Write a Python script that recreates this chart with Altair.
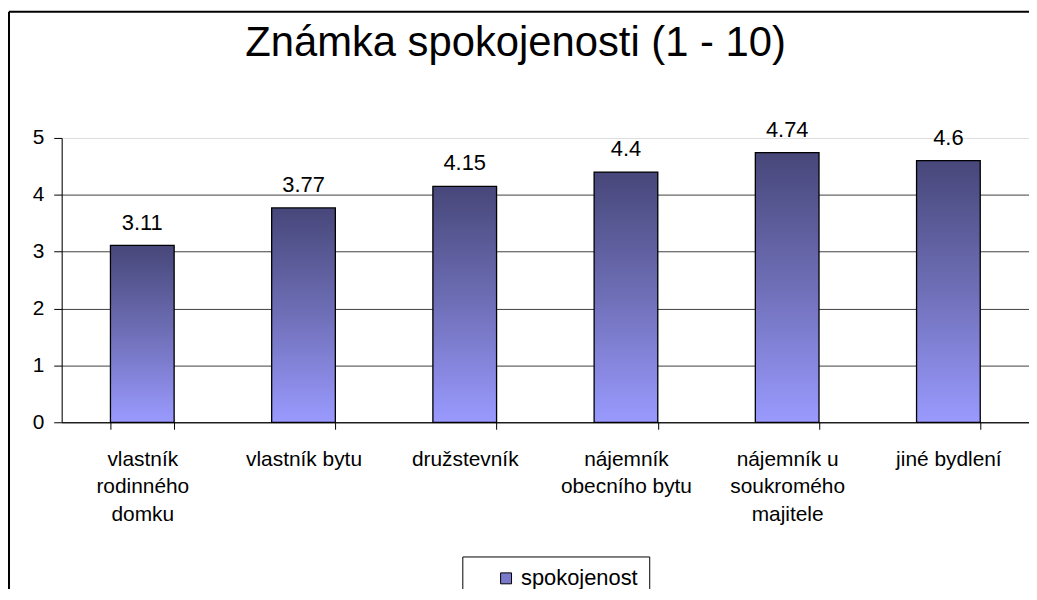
import json
import altair as alt
import pandas as pd

# ---- data ----
categories = [
    "vlastník rodinného domku",
    "vlastník bytu",
    "družstevník",
    "nájemník obecního bytu",
    "nájemník u soukromého majitele",
    "jiné bydlení",
]
label_lines = [
    ["vlastník", "rodinného", "domku"],
    ["vlastník bytu"],
    ["družstevník"],
    ["nájemník", "obecního bytu"],
    ["nájemník u", "soukromého", "majitele"],
    ["jiné bydlení"],
]
values = [3.11, 3.77, 4.15, 4.4, 4.74, 4.6]
series_name = "spokojenost"
y_ticks = [0, 1, 2, 3, 4, 5]

FONT = "Liberation Sans"

df = pd.DataFrame({
    "kategorie": categories,
    "hodnota": values,
    "popisek": [str(v) for v in values],
    "serie": [series_name] * len(values),
})

label_map = json.dumps(dict(zip(categories, label_lines)), ensure_ascii=False)

x_enc = alt.X(
    "kategorie:N",
    sort=categories,
    scale=alt.Scale(paddingInner=0.605, paddingOuter=0.3025),
    axis=alt.Axis(
        title=None,
        labelAngle=0,
        labelExpr=f"{label_map}[datum.label]",
        labelFont=FONT,
        labelFontSize=21,
        labelColor="black",
        labelLineHeight=28,
        labelPadding=19,
        labelBaseline="top",
        labelLimit=300,
        tickBand="extent",
        tickSize=7,
        tickColor="black",
        domainColor="black",
        grid=False,
    ),
)
y_enc = alt.Y(
    "hodnota:Q",
    scale=alt.Scale(domain=[0, 5], nice=False),
    axis=alt.Axis(
        title=None,
        values=y_ticks,
        format="d",
        labelFont=FONT,
        labelFontSize=21,
        labelColor="black",
        labelPadding=10,
        tickSize=8,
        tickColor="black",
        domainColor="black",
        grid=True,
        gridColor="#404040",
        gridOpacity=alt.condition("datum.value == 5", alt.value(0), alt.value(1)),
    ),
)

gradient = alt.Gradient(
    gradient="linear",
    stops=[
        alt.GradientStop(color="#47477a", offset=0),
        alt.GradientStop(color="#6f6fb8", offset=0.5),
        alt.GradientStop(color="#9a9aff", offset=1),
    ],
    x1=0, x2=0, y1=0, y2=1,
)

legend_bars = alt.Chart(df).mark_bar().encode(
    x=x_enc,
    y=y_enc,
    color=alt.Color(
        "serie:N",
        scale=alt.Scale(range=["#7a7acc"]),
        legend=alt.Legend(
            title=None,
            orient="none",
            legendX=403,
            legendY=421,
            padding=11,
            symbolOffset=22,
            strokeColor="black",
            fillColor="white",
            symbolType="square",
            symbolSize=121,
            symbolStrokeColor="black",
            symbolStrokeWidth=1,
            labelFont=FONT,
            labelFontSize=22,
            labelColor="black",
            labelOffset=4,
        ),
    ),
)

bars = alt.Chart(df).mark_bar(fill=gradient, stroke="black", strokeWidth=1.3).encode(
    x=alt.X("kategorie:N", sort=categories),
    y=alt.Y("hodnota:Q"),
)

labels = alt.Chart(df).mark_text(
    font=FONT, fontSize=22, color="black", baseline="alphabetic", dy=-16
).encode(
    x=alt.X("kategorie:N", sort=categories),
    y=alt.Y("hodnota:Q"),
    text="popisek:N",
)

frame_data = alt.Data(values=[{"f": 1}])
frame_top = alt.Chart(frame_data).mark_rule(color="black", strokeWidth=2).encode(
    x=alt.value(-53), x2=alt.value(973), y=alt.value(-127)
)
frame_left = alt.Chart(frame_data).mark_rule(color="black", strokeWidth=2).encode(
    x=alt.value(-53), y=alt.value(-127), y2=alt.value(600)
)

chart = alt.layer(legend_bars, bars, labels, frame_top, frame_left).properties(
    width=973,
    height=286,
    autosize=alt.AutoSizeParams(type="none"),
    padding={"left": 54, "top": 129, "right": 0, "bottom": 166},
    title=alt.Title(
        "Známka spokojenosti (1 - 10)",
        font=FONT,
        fontSize=42,
        fontWeight="normal",
        color="black",
        anchor="middle",
        baseline="alphabetic",
        dx=-30,
        offset=0,
        dy=88,
    ),
).configure_view(stroke=None).configure(background="white")

chart.save("out.html", embed_options={"renderer": "svg", "actions": False})
